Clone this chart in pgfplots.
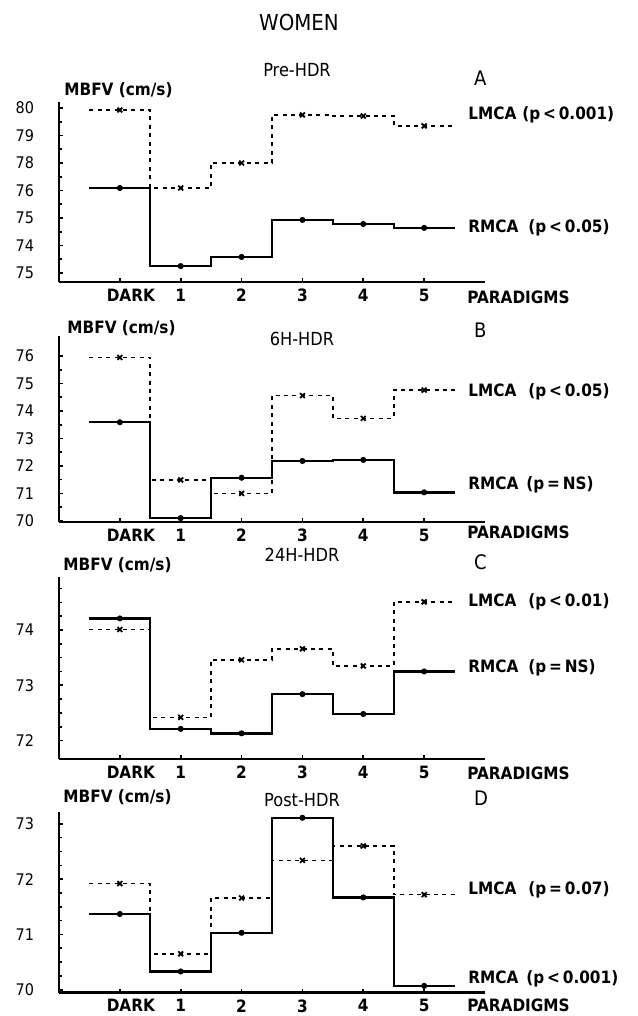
\documentclass[border=0pt]{standalone}
\usepackage{fontspec}
\setmainfont{DejaVu Sans Condensed}
\usepackage{pgfplots}
\usepackage{pgfplotstable}
\pgfplotsset{compat=1.18}

% x = paradigm (0 = DARK), L = LMCA, R = RMCA; row 6 repeats row 5 (end of last step)
\pgfplotstableread{
x L R
0 79.93 77.09
1 77.09 74.25
2 78.00 74.58
3 79.75 75.93
4 79.71 75.78
5 79.35 75.64
6 79.35 75.64
}\tabA
\pgfplotstableread{
x L R
0 75.95 73.59
1 71.49 70.10
2 71.00 71.57
3 74.56 72.18
4 73.73 72.22
5 74.76 71.04
6 74.76 71.04
}\tabB
\pgfplotstableread{
x L R
0 74.01 74.21
1 72.42 72.21
2 73.46 72.13
3 73.66 72.84
4 73.35 72.48
5 74.51 73.25
6 74.51 73.25
}\tabC
\pgfplotstableread{
x L R
0 71.92 71.37
1 70.65 70.33
2 71.66 71.03
3 72.34 73.11
4 72.60 71.67
5 71.72 70.07
6 71.72 70.07
}\tabD

\newcommand{\lab}{\bfseries\fontsize{8.5}{10}\selectfont}

\pgfplotsset{
  panel/.style={
    scale only axis, width=213pt,
    xmin=-1, xmax=6,
    axis x line*=bottom, axis y line*=left,
    axis line style={line width=1.1pt, black},
    xtick={0,...,5},
    xticklabels={{\hspace*{11pt}DARK},1,2,3,4,5},
    xticklabel style={font=\lab},
    yticklabel style={font=\fontsize{8}{10}\selectfont, xshift=-9pt},
    /pgf/number format/assume math mode=true,
    tick align=inside, major tick length=2pt, minor tick length=1.5pt,
    tick style={line width=0.8pt, black},
    clip=false,
  },
  rmca/.style={const plot mark left, line width=1.2pt, black, no marks},
  lmca/.style={const plot mark left, line width=0.8pt, black, no marks,
    dash pattern=on 2pt off 2.2pt},
  rdots/.style={only marks, mark=*, mark size=1.3pt, black,
    restrict x to domain=0:5},
  ldots/.style={only marks, mark=x, mark size=1.7pt, black,
    mark options={line width=0.9pt}, restrict x to domain=0:5},
}

\begin{document}
\begin{tikzpicture}
\useasboundingbox (0,0) rectangle (318.5pt,-508pt);

% A: Pre-HDR
\begin{axis}[panel, at={(29.5pt,-141pt)}, height=90pt,
  ymin=73.67, ymax=80.22,
  ytick={74,...,80}, yticklabels={75,74,75,76,78,79,80}, minor y tick num=1]
\addplot[lmca] table[x expr=\thisrow{x}-0.5, y=L] {\tabA};
\addplot[rmca] table[x expr=\thisrow{x}-0.5, y=R] {\tabA};
\addplot[ldots] table[x=x, y=L] {\tabA};
\addplot[rdots] table[x=x, y=R] {\tabA};
\end{axis}

% B: 6H-HDR
\begin{axis}[panel, at={(29.5pt,-260.85pt)}, height=92.85pt,
  ymin=69.97, ymax=76.73,
  ytick={70,...,76}, yticklabels={70,71,72,73,74,75,76}, minor y tick num=1]
\addplot[lmca] table[x expr=\thisrow{x}-0.5, y=L] {\tabB};
\addplot[rmca] table[x expr=\thisrow{x}-0.5, y=R] {\tabB};
\addplot[ldots] table[x=x, y=L] {\tabB};
\addplot[rdots] table[x=x, y=R] {\tabB};
\end{axis}

% C: 24H-HDR
\begin{axis}[panel, at={(29.5pt,-379.65pt)}, height=91.15pt,
  ymin=71.66, ymax=74.96,
  ytick={72,...,75}, yticklabels={72,73,74,76}, minor y tick num=3]
\addplot[lmca] table[x expr=\thisrow{x}-0.5, y=L] {\tabC};
\addplot[rmca] table[x expr=\thisrow{x}-0.5, y=R] {\tabC};
\addplot[ldots] table[x=x, y=L] {\tabC};
\addplot[rdots] table[x=x, y=R] {\tabC};
\end{axis}

% D: Post-HDR
\begin{axis}[panel, at={(29.5pt,-496.25pt)}, height=90.4pt,
  ymin=69.95, ymax=73.22,
  ytick={70,...,73}, yticklabels={70,71,72,73}, minor y tick num=3]
\addplot[lmca] table[x expr=\thisrow{x}-0.5, y=L] {\tabD};
\addplot[rmca] table[x expr=\thisrow{x}-0.5, y=R] {\tabD};
\addplot[ldots] table[x=x, y=L] {\tabD};
\addplot[rdots] table[x=x, y=R] {\tabD};
\end{axis}

\begin{scope}[x=0.5pt, y=-0.5pt]
\node[font=\fontsize{11}{13}\selectfont] at (299,22) {WOMEN};
\foreach \t/\x/\y in {Pre-HDR/297/70, 6H-HDR/302/339, 24H-HDR/302/555, Post-HDR/302/800}
  \node[font=\fontsize{9}{11}\selectfont] at (\x,\y) {\t};
\foreach \t/\y in {A/78, B/330, C/562, D/798}
  \node[font=\fontsize{10}{12}\selectfont, anchor=west] at (467,\y) {\t};
\foreach \x/\y in {64/90, 67/328, 63/565, 63/797}
  \node[font=\lab, anchor=west, inner sep=0pt] at (\x,\y) {MBFV (cm/s)};
\foreach \y in {297, 532, 773, 1005}
  \node[font=\lab, anchor=west, inner sep=0pt] at (467,\y) {PARADIGMS};
\begin{scope}[every node/.style={font=\lab, anchor=west, inner sep=0pt}]
\node at (468,115) {LMCA\hspace{3pt}(p\,<\,0.001)};
\node at (468,228) {RMCA\hspace{5pt}(p\,<\,0.05)};
\node at (468,392) {LMCA\hspace{6pt}(p\,<\,0.05)};
\node at (468,485) {RMCA\hspace{4pt}(p\,=\,NS)};
\node at (468,602) {LMCA\hspace{6pt}(p\,<\,0.01)};
\node at (468,668) {RMCA\hspace{5pt}(p\,=\,NS)};
\node at (468,890) {LMCA\hspace{6pt}(p\,=\,0.07)};
\node at (468,979) {RMCA\hspace{4pt}(p\,<\,0.001)};
\end{scope}
\end{scope}
\end{tikzpicture}
\end{document}
